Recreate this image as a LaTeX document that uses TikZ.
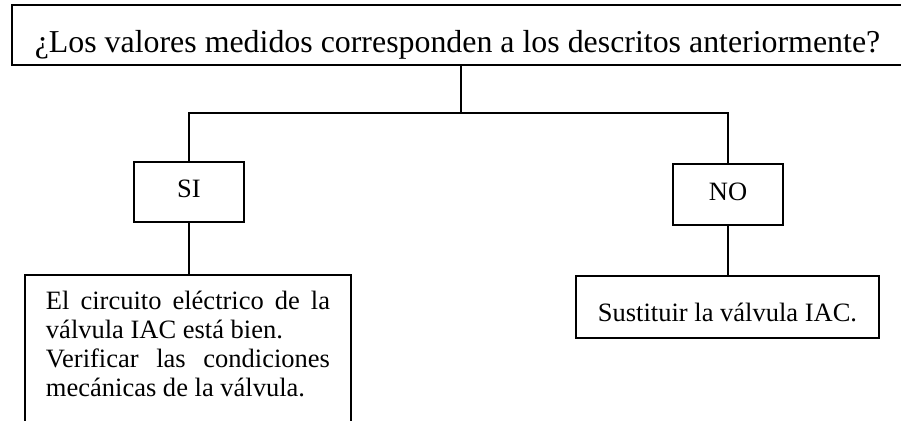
\documentclass[tikz,border=0pt]{standalone}
\usepackage{fontspec}
\setmainfont{Liberation Serif}
\tikzset{
  caja/.style={draw, line width=0.8pt, inner sep=0pt, anchor=base, align=center,
    font=\fontsize{13.3}{14.5}\selectfont},
  linea/.style={line width=0.8pt}
}
\begin{document}
\begin{tikzpicture}[x=0.5bp, y=-0.5bp]
      \useasboundingbox (0,0) rectangle (901,421);
      % pregunta
      \node[caja, minimum width=451bp, text height=24bp, text depth=6bp,
            font=\fontsize{16}{19}\selectfont] (pregunta) at (463,53)
            {\hspace*{-5.5bp}¿Los valores medidos corresponden a los descritos anteriormente?};
      % respuestas
      \node[caja, minimum width=55bp, text height=18bp, text depth=12bp] (si) at (189,198) {SI};
      \node[caja, minimum width=55bp, text height=18.5bp, text depth=12bp] (no) at (728,201) {NO};
      % acciones
      \node[caja, align=justify, text width=142bp, inner xsep=10.5bp,
            text height=17.5bp, text depth=68bp] (circuito) at (188,310)
            {\hyphenpenalty=10000 El circuito eléctrico de la válvula IAC está bien.\\
             Verificar las condiciones mecánicas de la válvula.};
      \node[caja, minimum width=151.5bp, text height=23bp, text depth=8bp] (sustituir) at (727.5,322)
            {Sustituir la válvula IAC.};
      \coordinate (rama) at (461,113);
      \draw[linea] (pregunta.south -| rama) -- (rama);
      \draw[linea] (si.north) |- (rama) -| (no.north);
      \draw[linea] (si.south) -- (si.south |- circuito.north);
      \draw[linea] (no.south) -- (no.south |- sustituir.north);
\end{tikzpicture}
\end{document}
